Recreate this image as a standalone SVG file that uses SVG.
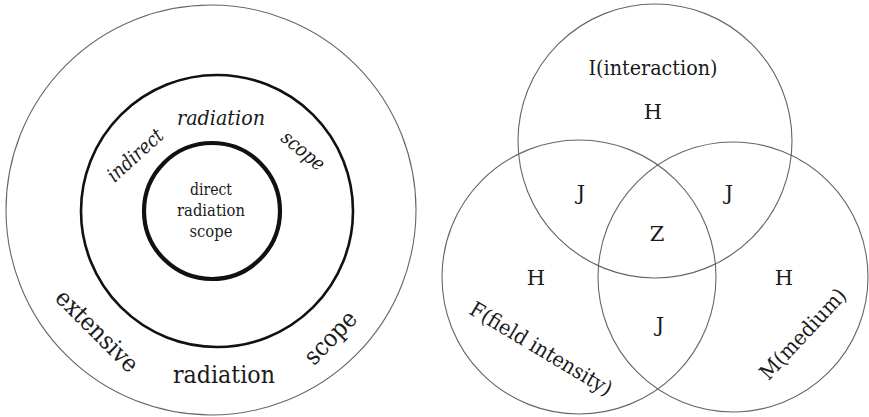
<svg xmlns="http://www.w3.org/2000/svg" width="869" height="417" viewBox="0 0 869 417">
  <style>
    text { font-family: "DejaVu Serif", "Liberation Serif", serif; fill: #1a1a1a; text-anchor: middle; }
    .ring-outer { fill: none; stroke: #666; stroke-width: 1.1; }
    .ring-mid { fill: none; stroke: #111; stroke-width: 2.6; }
    .ring-in { fill: none; stroke: #111; stroke-width: 4.2; }
    .venn { fill: none; stroke: #666; stroke-width: 1.1; }
    .it { font-style: italic; font-size: 20px; }
    .big { font-size: 24.5px; }
    .sm { font-size: 16.5px; }
    .v { font-size: 21px; }
  </style>
  <rect width="869" height="417" fill="#fff"/>

  <!-- concentric radiation scopes -->
  <g id="extensive-scope">
    <circle class="ring-outer" cx="211" cy="210" r="205"/>
    <text class="big" transform="translate(97 331) rotate(45)" y="8" textLength="106" lengthAdjust="spacingAndGlyphs">extensive</text>
    <text class="big" x="224" y="383" textLength="102" lengthAdjust="spacingAndGlyphs">radiation</text>
    <text class="big" transform="translate(332 339) rotate(-46)" y="6" textLength="64" lengthAdjust="spacingAndGlyphs">scope</text>
  </g>
  <g id="indirect-scope">
    <circle class="ring-mid" cx="217" cy="211" r="136"/>
    <text class="it" transform="translate(135 155) rotate(-42)" y="7" textLength="68" lengthAdjust="spacingAndGlyphs">indirect</text>
    <text class="it" x="221" y="125" textLength="88" lengthAdjust="spacingAndGlyphs">radiation</text>
    <text class="it" transform="translate(302 152) rotate(40)" y="5" textLength="50" lengthAdjust="spacingAndGlyphs">scope</text>
  </g>
  <g id="direct-scope">
    <circle class="ring-in" cx="212" cy="211" r="68"/>
    <text class="sm" x="211" y="195" textLength="42" lengthAdjust="spacingAndGlyphs">direct</text>
    <text class="sm" x="211" y="216" textLength="68" lengthAdjust="spacingAndGlyphs">radiation</text>
    <text class="sm" x="211" y="237" textLength="43" lengthAdjust="spacingAndGlyphs">scope</text>
  </g>

  <!-- three-set Venn -->
  <g id="set-I">
    <circle class="venn" cx="655" cy="141" r="137"/>
    <text class="v" x="653" y="75" textLength="129" lengthAdjust="spacingAndGlyphs">I(interaction)</text>
    <text class="v" x="653" y="119">H</text>
  </g>
  <g id="set-F">
    <circle class="venn" cx="579" cy="277" r="137"/>
    <text class="v" x="536" y="285">H</text>
    <text class="v" transform="translate(541 349) rotate(31)" y="7" textLength="162" lengthAdjust="spacingAndGlyphs">F(field intensity)</text>
  </g>
  <g id="set-M">
    <circle class="venn" cx="733" cy="277" r="135"/>
    <text class="v" x="784" y="285">H</text>
    <text class="v" transform="translate(803 334) rotate(-47)" y="7" textLength="116" lengthAdjust="spacingAndGlyphs">M(medium)</text>
  </g>
  <g id="overlaps">
    <text class="v" x="581" y="200">J</text>
    <text class="v" x="729" y="200">J</text>
    <text class="v" x="660" y="332">J</text>
    <text class="v" x="657" y="241">Z</text>
  </g>
</svg>
